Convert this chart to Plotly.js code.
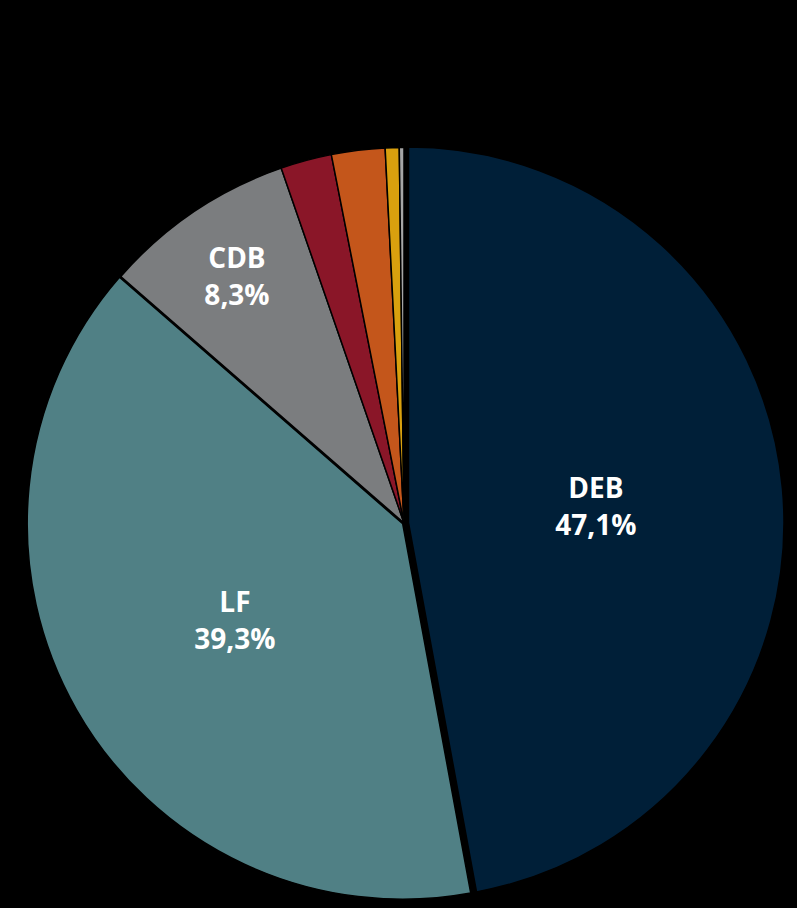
<!DOCTYPE html>
<html>
<head>
<meta charset="utf-8">
<script src="https://cdn.plot.ly/plotly-3.0.1.min.js"></script>
<style>html,body{margin:0;padding:0;background:#000;}</style>
</head>
<body>
<div id="chart" style="width:797px;height:908px;"></div>
<script>
var categories = ["DEB", "LF", "CDB", "Autre 1", "Autre 2", "Autre 3", "Autre 4"];
var shares = [47.1, 39.3, 8.3, 2.2, 2.3, 0.6, 0.2];
var shownLabels = ["DEB<br>47,1%", "LF<br>39,3%", "CDB<br>8,3%", "", "", "", ""];
var colors = ["#001F38", "#508085", "#7B7D7F", "#8A1628", "#C4561B", "#D9A00E", "#A6A6A6"];
var pulls = [0.012, 0.004, 0, 0, 0, 0, 0];

var trace = {
  type: "pie",
  labels: categories,
  values: shares,
  text: shownLabels,
  textinfo: "text",
  textposition: "inside",
  insidetextorientation: "horizontal",
  sort: false,
  direction: "clockwise",
  rotation: 0,
  pull: pulls,
  marker: {colors: colors, line: {color: "#000000", width: 1.5}},
  textfont: {family: "Open Sans, sans-serif", size: 28, color: "#FFFFFF", weight: "bold"},
  hoverinfo: "label+percent",
  domain: {x: [0.0301, 0.9837], y: [0.0055, 0.8425]}
};

var layout = {
  width: 797, height: 908,
  margin: {l: 0, r: 0, t: 0, b: 0},
  paper_bgcolor: "#000000",
  plot_bgcolor: "#000000",
  showlegend: false
};

Plotly.newPlot("chart", [trace], layout, {displayModeBar: false, staticPlot: true});
</script>
</body>
</html>
